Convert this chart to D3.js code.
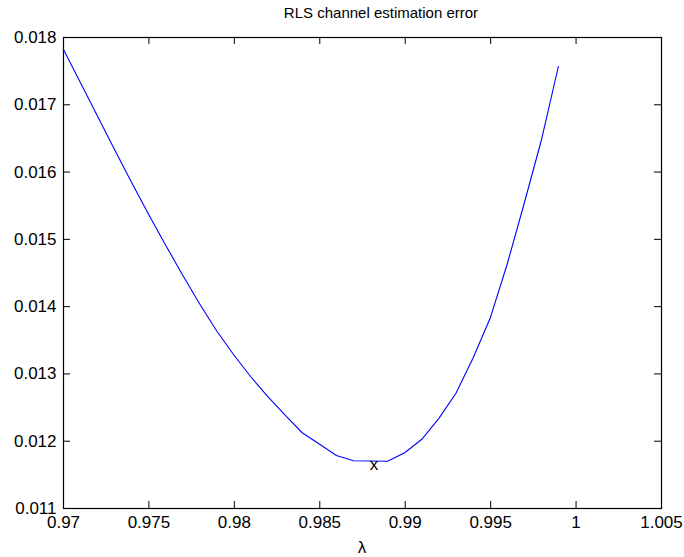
<!DOCTYPE html>
<html>
<head>
<meta charset="utf-8">
<script src="https://cdn.jsdelivr.net/npm/d3@7"></script>
<style>
  html, body { margin: 0; padding: 0; background: #fff; }
  svg { display: block; font-family: "Liberation Sans", Arial, sans-serif; }
</style>
</head>
<body>
<svg id="chart" width="684" height="557"></svg>
<script>
// ---- data ----
const lambdas = [0.970, 0.971, 0.972, 0.973, 0.974, 0.975, 0.976, 0.977, 0.978, 0.979,
                 0.980, 0.981, 0.982, 0.983, 0.984, 0.985, 0.986, 0.987, 0.988, 0.989,
                 0.990, 0.991, 0.992, 0.993, 0.994, 0.995, 0.996, 0.997, 0.998, 0.999];
const errors = [0.017829, 0.017331, 0.016833, 0.016336, 0.015845, 0.015369, 0.014909, 0.014463, 0.014032, 0.013631,
                0.013274, 0.012947, 0.012650, 0.012382, 0.012119, 0.011951, 0.011780, 0.011703, 0.011699, 0.011694,
                0.011822, 0.012021, 0.012333, 0.012705, 0.013229, 0.013819, 0.014626, 0.015533, 0.016469, 0.017569];
const minMarker = [0.9882, 0.01165];
const xTicks = [0.97, 0.975, 0.98, 0.985, 0.99, 0.995, 1, 1.005];
const xTickLabels = ["0.97", "0.975", "0.98", "0.985", "0.99", "0.995", "1", "1.005"];
const yTicks = [0.011, 0.012, 0.013, 0.014, 0.015, 0.016, 0.017, 0.018];
const yTickLabels = ["0.011", "0.012", "0.013", "0.014", "0.015", "0.016", "0.017", "0.018"];
const titleText = "RLS channel estimation error";
const xLabelText = "λ";

// ---- layout ----
const L = 63, R = 661, T = 37, B = 508;
const svg = d3.select("#chart");
const x = d3.scaleLinear().domain([0.97, 1.005]).range([L, R]);
const y = d3.scaleLinear().domain([0.011, 0.018]).range([B, T]);

const fs = 17;
const tickLen = 7;

function styleAxis(g) {
  g.selectAll("path.domain").remove();
  g.selectAll(".tick line").attr("stroke", "#000").attr("stroke-width", 1);
  g.selectAll(".tick text").attr("fill", "#000").attr("font-size", fs)
    .attr("font-family", "'Liberation Sans', Arial, sans-serif");
}

// bottom
svg.append("g").attr("transform", `translate(0,${B})`)
  .call(d3.axisBottom(x).tickValues(xTicks).tickFormat((d, i) => xTickLabels[i])
    .tickSizeInner(-tickLen).tickSizeOuter(0).tickPadding(8))
  .call(styleAxis);
// top
svg.append("g").attr("transform", `translate(0,${T})`)
  .call(d3.axisTop(x).tickValues(xTicks).tickFormat("")
    .tickSizeInner(-tickLen).tickSizeOuter(0))
  .call(styleAxis);
// left
svg.append("g").attr("transform", `translate(${L},0)`)
  .call(d3.axisLeft(y).tickValues(yTicks).tickFormat((d, i) => yTickLabels[i])
    .tickSizeInner(-tickLen).tickSizeOuter(0).tickPadding(6.5))
  .call(styleAxis);
// right
svg.append("g").attr("transform", `translate(${R},0)`)
  .call(d3.axisRight(y).tickValues(yTicks).tickFormat("")
    .tickSizeInner(-tickLen).tickSizeOuter(0))
  .call(styleAxis);

// box
svg.append("rect").attr("x", L + 0.5).attr("y", T + 0.5)
  .attr("width", R - L).attr("height", B - T)
  .attr("fill", "none").attr("stroke", "#000").attr("stroke-width", 1.2);

// line
const line = d3.line().x((d, i) => x(lambdas[i])).y(d => y(d));
svg.append("path").datum(errors)
  .attr("d", line)
  .attr("fill", "none").attr("stroke", "#0000ff").attr("stroke-width", 1.1);

// min marker
svg.append("text")
  .attr("x", x(minMarker[0])).attr("y", y(minMarker[1]))
  .attr("text-anchor", "middle").attr("dominant-baseline", "central")
  .attr("font-size", 17).attr("fill", "#000").text("x");

// title
svg.append("text").attr("x", 381).attr("y", 18)
  .attr("text-anchor", "middle").attr("font-size", 15).attr("fill", "#000")
  .text(titleText);

// x label
svg.append("text").attr("x", (L + R) / 2).attr("y", 553)
  .attr("text-anchor", "middle").attr("font-size", 17).attr("fill", "#000")
  .text(xLabelText);
</script>
</body>
</html>
